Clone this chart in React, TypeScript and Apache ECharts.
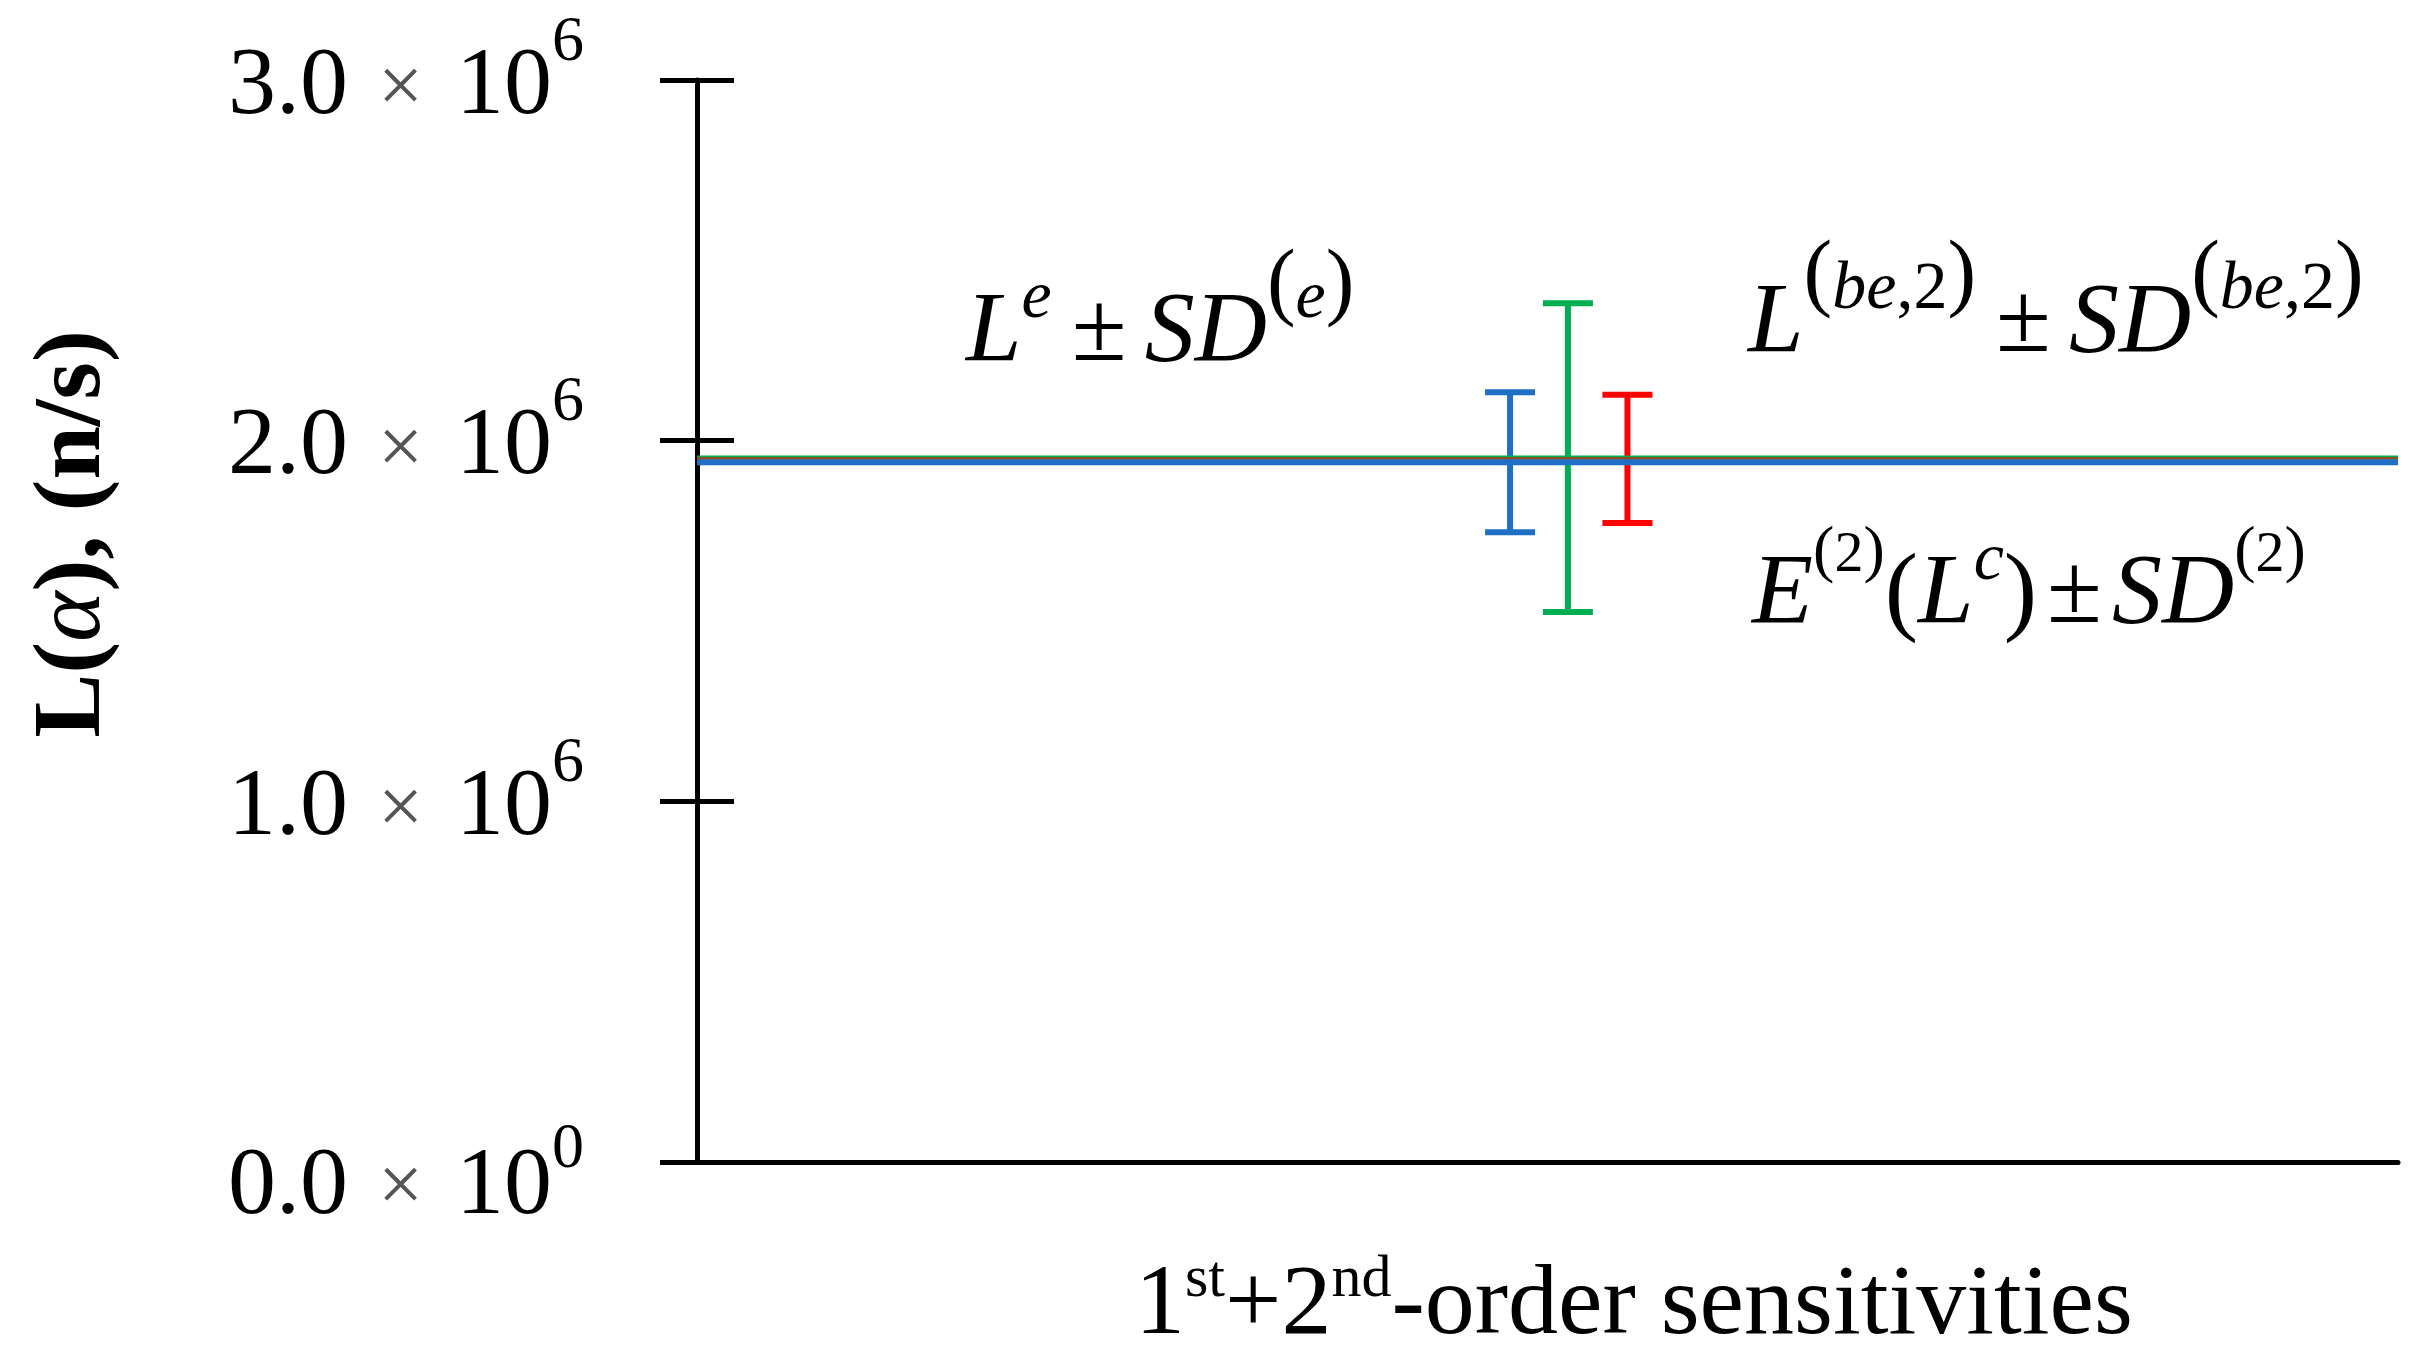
import React, { useEffect, useRef } from "react";
import * as echarts from "echarts";

// ---- data ----
const yTickValues = [0, 1e6, 2e6, 3e6];
const yTickMantissas = ["0.0", "1.0", "2.0", "3.0"];
const yTickExponents = ["0", "6", "6", "6"];

const seriesNames = ["E(2)(Lc)", "L(be,2)", "Le"];
const seriesColors = ["#00b050", "#ff0000", "#1f6fc5"];
const seriesMeans = [1.953e6, 1.9495e6, 1.94e6];
const seriesSDs = [0.428e6, 0.178e6, 0.194e6];
const barPositions = [51.2, 54.7, 47.8];
const lineXRange = [0, 100];

const FONT = '"Liberation Serif", "Times New Roman", serif';

export default function App() {
  const ref = useRef<HTMLDivElement>(null);
  useEffect(() => {
    document.body.style.margin = "0";
    const chart = echarts.init(ref.current!, null, { renderer: "svg" });

    const lineWidths = [4, 4, 6];
    const lineOpacity = [1, 0.55, 1];
    const lineSeries = seriesNames.map((name, i) => ({
      type: "line",
      name,
      data: [
        [lineXRange[0], seriesMeans[i]],
        [lineXRange[1], seriesMeans[i]],
      ],
      showSymbol: false,
      symbol: "none",
      lineStyle: { color: seriesColors[i], width: lineWidths[i], opacity: lineOpacity[i] },
      z: 5 + i,
      silent: true,
    }));

    const errData = seriesNames.map((_, i) => [barPositions[i], seriesMeans[i], seriesSDs[i], i]);

    const errSeries = {
      type: "custom",
      name: "error bars",
      data: errData,
      z: 2,
      renderItem: (params: any, api: any) => {
        const x = api.value(0);
        const m = api.value(1);
        const sd = api.value(2);
        const idx = api.value(3);
        const top = api.coord([x, m + sd]);
        const bot = api.coord([x, m - sd]);
        const half = 25;
        const style = { stroke: seriesColors[idx], lineWidth: 6 };
        return {
          type: "group",
          children: [
            { type: "line", shape: { x1: top[0], y1: top[1], x2: bot[0], y2: bot[1] }, style },
            { type: "line", shape: { x1: top[0] - half, y1: top[1], x2: top[0] + half, y2: top[1] }, style },
            { type: "line", shape: { x1: bot[0] - half, y1: bot[1], x2: bot[0] + half, y2: bot[1] }, style },
          ],
        };
      },
    };

    const annRich = {
      i: { fontFamily: FONT, fontStyle: "italic", fontSize: 100, color: "#000" },
      u: { fontFamily: FONT, fontSize: 100, color: "#000" },
      pm: { fontFamily: FONT, fontSize: 100, color: "#000", padding: [0, 18, 0, 20] },
      pm2: { fontFamily: FONT, fontSize: 100, color: "#000", padding: [0, 10] },
      si: { fontFamily: FONT, fontStyle: "italic", fontSize: 68, color: "#000", padding: [0, 0, 64, 0] },
      su: { fontFamily: FONT, fontSize: 68, color: "#000", padding: [0, 0, 64, 0] },
      sp: { fontFamily: FONT, fontSize: 86, color: "#000", padding: [0, 0, 92, 0] },
      su3: { fontFamily: FONT, fontSize: 58, color: "#000", padding: [0, 0, 74, 0] },
      sp3: { fontFamily: FONT, fontSize: 64, color: "#000", padding: [0, 0, 80, 0] },
    };

    const mkText = (text: string, x: number, y: number, rich: any, center = false) => ({
      type: "text",
      x,
      y,
      style: {
        text,
        rich,
        fill: "#000",
        font: `100px ${FONT}`,
        textAlign: center ? "center" : "left",
        textVerticalAlign: "middle",
        align: center ? "center" : "left",
        verticalAlign: "middle",
      },
    });

    const xNameRich = {
      m: { fontFamily: FONT, fontSize: 100, color: "#000" },
      s: { fontFamily: FONT, fontSize: 60, color: "#000", padding: [0, 0, 46, 0] },
    };

    const yNameRich = {
      b: { fontFamily: FONT, fontWeight: "bold", fontSize: 96, color: "#000" },
      a: { fontFamily: FONT, fontStyle: "italic", fontSize: 96, color: "#000" },
    };

    const yNameEl: any = mkText("{b|L(}{a|α}{b|), (n/s)}", 66, 534, yNameRich, true);
    yNameEl.rotation = Math.PI / 2;

    const option: any = {
      animation: false,
      backgroundColor: "#fff",
      grid: { left: 697, right: 13, top: 80, bottom: 198, containLabel: false },
      xAxis: {
        type: "value",
        min: lineXRange[0],
        max: lineXRange[1],
        axisLine: { show: true, onZero: false, lineStyle: { color: "#000", width: 5 } },
        axisTick: { show: false },
        axisLabel: { show: false },
        splitLine: { show: false },
      },
      yAxis: [
        {
          type: "value",
          min: 0,
          max: 3e6,
          interval: 1e6,
          position: "left",
          axisLine: { show: true, lineStyle: { color: "#000", width: 5 } },
          axisTick: { show: true, length: 37, lineStyle: { color: "#000", width: 5 } },
          splitLine: { show: false },
          axisLabel: {
            margin: 113,
            align: "right",
            verticalAlign: "middle",
            formatter: (v: number) => {
              const i = yTickValues.indexOf(v);
              if (i < 0) return "";
              const z = i === 0 ? "0" : "";
              return `{m${z}|${yTickMantissas[i]}}{x${z}|×}{m${z}|10}{s${z}|${yTickExponents[i]}}`;
            },
            rich: {
              m: { fontFamily: FONT, fontSize: 96, color: "#000" },
              m0: { fontFamily: FONT, fontSize: 96, color: "#000", padding: [36, 0, 0, 0] },
              x: { fontFamily: FONT, fontSize: 80, color: "#555", padding: [10, 33, 0, 30] },
              x0: { fontFamily: FONT, fontSize: 80, color: "#555", padding: [44, 33, 0, 30] },
              s: { fontFamily: FONT, fontSize: 64, color: "#000", padding: [0, 0, 84, 0] },
              s0: { fontFamily: FONT, fontSize: 64, color: "#000", padding: [0, 0, 34, 0] },
            },
          },
        },
        {
          type: "value",
          min: 0,
          max: 3e6,
          interval: 1e6,
          position: "left",
          axisLine: { show: false },
          axisTick: { show: true, inside: true, length: 37, lineStyle: { color: "#000", width: 5 } },
          axisLabel: { show: false },
          splitLine: { show: false },
        },
      ],
      series: [...lineSeries, errSeries],
      graphic: [
        mkText("{i|L}{si|e}{pm|±}{i|SD}{sp|(}{si|e}{sp|)}", 966, 326, annRich),
        mkText("{i|L}{sp|(}{si|be}{su|,2}{sp|)}{pm|±}{i|SD}{sp|(}{si|be}{su|,2}{sp|)}", 1748, 317, annRich),
        mkText("{i|E}{sp3|(}{su3|2}{sp3|)}{u|(}{i|L}{si|c}{u|)}{pm2|±}{i|SD}{sp3|(}{su3|2}{sp3|)}", 1752, 588, annRich),
        mkText("{m|1}{s|st}{m|+2}{s|nd}{m|-order sensitivities}", 1135, 1299, xNameRich),
        yNameEl,
      ],
    };

    chart.setOption(option);
    return () => chart.dispose();
  }, []);

  return (
    <div
      ref={ref}
      style={{ position: "absolute", left: 0, top: 0, width: 2411, height: 1360 }}
    />
  );
}
